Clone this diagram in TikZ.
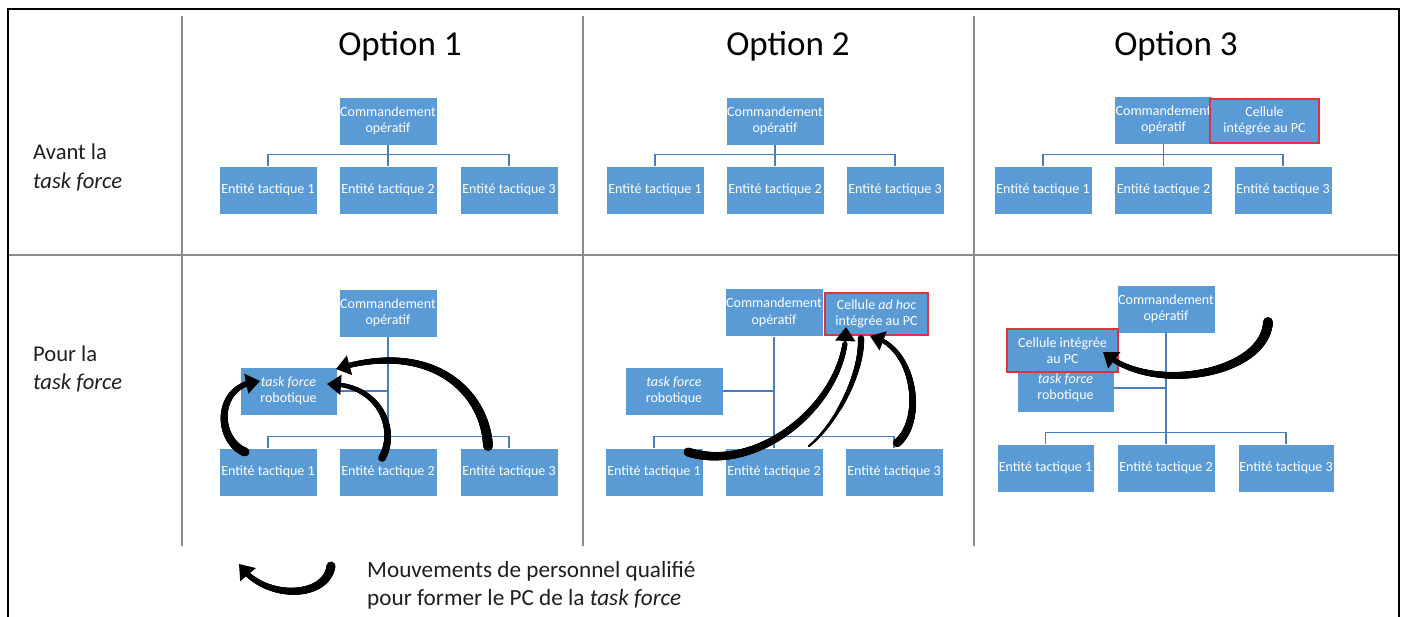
\documentclass[tikz,border=0pt]{standalone}
\usepackage{fontspec}
\setmainfont{Carlito}
\usetikzlibrary{arrows.meta,decorations.markings,bending}
\definecolor{boxblue}{HTML}{5B9BD5}
\definecolor{linkblue}{HTML}{4A7EBB}
\definecolor{cellred}{HTML}{E0313F}
\definecolor{gridgray}{HTML}{8C8C8C}
\tikzset{
  orgbox/.style={rectangle, fill=boxblue, draw=white, line width=0.6pt,
    minimum width=98pt, minimum height=48pt, inner sep=0pt, align=center,
    text=white, font=\fontsize{14}{16.5}\selectfont},
  cellbox/.style={orgbox, draw=cellred, line width=1.4pt},
  link/.style={draw=linkblue, line width=1.1pt},
  gridline/.style={draw=gridgray, line width=1.1pt},
  frameline/.style={draw=black, line width=2pt},
  titletext/.style={anchor=base, inner sep=0pt, font=\fontsize{35}{42}\selectfont},
  rowlabel/.style={anchor=base west, inner sep=0pt, text=black!88, font=\fontsize{22.6}{26}\selectfont},
  taper/.style n args={3}{postaction={decorate, decoration={markings,
    mark=between positions 0 and #3 step 0.6pt with {%
      \pgfmathsetmacro\rr{#1+(#2-#1)*\pgfkeysvalueof{/pgf/decoration/mark info/distance from start}/\pgfdecoratedpathlength}%
      \fill[black] (0,0) circle[radius=\rr pt];}}}},
  movearrow/.style n args={2}{draw=black, line width=2pt,
    -{Triangle[width=20pt,length=14pt]}, taper={#1}{#2}{0.92}},
}
\begin{document}
\begin{tikzpicture}[x=1pt,y=-1pt]
\useasboundingbox (0,0) rectangle (1405,617);
\fill[white] (0,0) rectangle (1405,617);

% frame and grid
\draw[frameline] (7.5,617) -- (7.5,9) -- (1399,9) -- (1399,617);
\draw[gridline] (182,16) -- (182,546);
\draw[gridline] (583,16) -- (583,546);
\draw[gridline] (974,16) -- (974,546);
\draw[gridline] (8.5,255) -- (1398,255);

% titles
\node[titletext] (t1) at (400,56) {Option 1};
\node[titletext] (t2) at (788,56) {Option 2};
\node[titletext] (t3) at (1176,56) {Option 3};

% row labels
\node[rowlabel] (r1a) at (33,160) {Avant la};
\node[rowlabel] (r1b) at (33,189) {\textit{task force}};
\node[rowlabel] (r2a) at (33,362) {Pour la};
\node[rowlabel] (r2b) at (33,389) {\textit{task force}};

% ===== Top row =====
% Option 1
\node[orgbox] (a1c) at (388,121) {Commandement\\opératif};
\node[orgbox] (a1e1) at (268,190) {Entité tactique 1};
\node[orgbox] (a1e2) at (388,190) {Entité tactique 2};
\node[orgbox] (a1e3) at (509,190) {Entité tactique 3};
% Option 2
\node[orgbox] (a2c) at (775,121) {Commandement\\opératif};
\node[orgbox] (a2e1) at (655,190) {Entité tactique 1};
\node[orgbox] (a2e2) at (775,190) {Entité tactique 2};
\node[orgbox] (a2e3) at (895,190) {Entité tactique 3};
% Option 3
\node[orgbox] (a3c) at (1163.5,120) {Commandement\\opératif};
\node[orgbox] (a3e1) at (1043,190) {Entité tactique 1};
\node[orgbox] (a3e2) at (1163.5,190) {Entité tactique 2};
\node[orgbox] (a3e3) at (1283,190) {Entité tactique 3};
\node[cellbox, minimum width=109pt, minimum height=44pt] (a3cell) at (1264.5,121) {Cellule\\intégrée au PC};

\foreach \k in {1,2,3}{
  \draw[link] (a\k c.south) -- (a\k e2.north);
  \draw[link] (a\k e1.north) -- ++(0,-11) -| (a\k e3.north);
}

% ===== Bottom row =====
% Option 1
\node[orgbox] (b1c) at (388,313) {Commandement\\opératif};
\node[orgbox, minimum width=97pt] (b1tf) at (288.5,391) {\textit{task force}\\robotique};
\node[orgbox] (b1e1) at (268,472) {Entité tactique 1};
\node[orgbox] (b1e2) at (388,472) {Entité tactique 2};
\node[orgbox] (b1e3) at (509,472) {Entité tactique 3};
% Option 2
\node[orgbox] (b2c) at (774,312.5) {Commandement\\opératif};
\node[cellbox, minimum width=103pt, minimum height=42pt] (b2cell) at (876.5,314) {Cellule \textit{ad hoc}\\intégrée au PC};
\node[orgbox] (b2tf) at (674,391) {\textit{task force}\\robotique};
\node[orgbox] (b2e1) at (654,472) {Entité tactique 1};
\node[orgbox] (b2e2) at (774,472) {Entité tactique 2};
\node[orgbox] (b2e3) at (894,472) {Entité tactique 3};
% Option 3
\node[orgbox] (b3c) at (1166,309) {Commandement\\opératif};
\node[orgbox, minimum width=97pt] (b3tf) at (1065.5,388) {\textit{task force}\\robotique};
\node[cellbox, minimum width=111pt, minimum height=43pt] (b3cell) at (1062.5,350.5) {Cellule intégrée\\au PC};
\node[orgbox, minimum width=97pt] (b3e1) at (1045.5,468) {Entité tactique 1};
\node[orgbox] (b3e2) at (1166,468) {Entité tactique 2};
\node[orgbox, minimum width=96pt] (b3e3) at (1286,468) {Entité tactique 3};

\foreach \k in {1,2,3}{
  \draw[link] (b\k c.south) -- (b\k e2.north);
  \draw[link] (b\k e1.north) -- ++(0,-11) -| (b\k e3.north);
  \draw[link] (b\k tf.east) -- (b\k tf.east -| b\k c.south);
}

% ===== Movement arrows =====
% Option 1
\coordinate (m1s) at (245,452);  \coordinate (m1e) at (260,381);
\coordinate (m2s) at (382,458);  \coordinate (m2e) at (327,384);
\coordinate (m3s) at (488,446);  \coordinate (m3e) at (336,369);
\draw[movearrow={4.5}{2.4}] (m1s) .. controls (216,440) and (214,384) .. (m1e);
\draw[movearrow={3.8}{1.9}] (m2s) .. controls (398,430) and (380,383) .. (m2e);
\draw[movearrow={5}{2.4}] (m3s) .. controls (485,390) and (430,340) .. (m3e);
% Option 2
\coordinate (n1s) at (688,452);  \coordinate (n1e) at (846,327);
\coordinate (n2s) at (809,446);  \coordinate (n2e) at (861,338);
\coordinate (n3s) at (897,443);  \coordinate (n3e) at (870,336);
\draw[movearrow={4.5}{2.4}] (n1s) .. controls (760,475) and (848,400) .. (n1e);
\path[taper={1.2}{3.2}{1}] (n2s) .. controls (835,425) and (862,375) .. (n2e);
\draw[movearrow={4.2}{1.9}] (n3s) .. controls (925,420) and (915,345) .. (n3e);
% Option 3
\coordinate (k1s) at (1268,322); \coordinate (k1e) at (1103,352);
\draw[movearrow={5}{2.4}] (k1s) .. controls (1265,375) and (1150,395) .. (k1e);

% ===== Legend =====
\coordinate (legs) at (331,566); \coordinate (lege) at (239,564);
\draw[movearrow={4.5}{2.4}] (legs) .. controls (326,600) and (262,600) .. (lege);
\node[anchor=base west, inner sep=0pt, align=left, font=\fontsize{23.2}{28}\selectfont, text=black!88] (legtext) at (367,605)
  {Mouvements de personnel qualifié\\pour former le PC de la \textit{task force}};
\end{tikzpicture}
\end{document}
